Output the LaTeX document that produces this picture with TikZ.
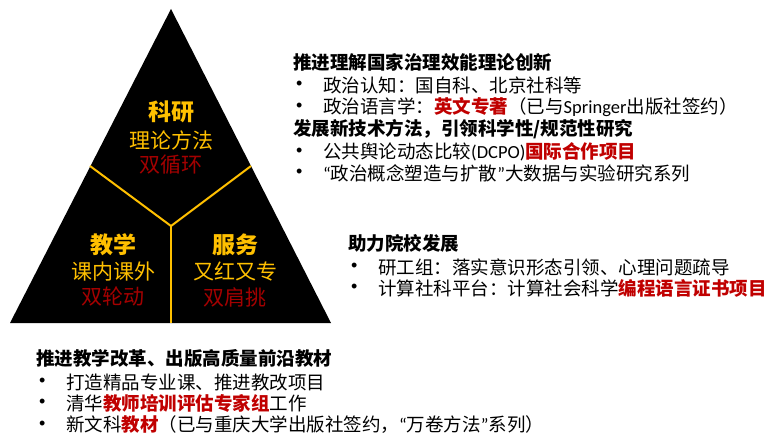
\documentclass[tikz,border=0pt]{standalone}
\usepackage{fontspec}
\setmainfont{Noto Sans CJK SC}
\newfontfamily\latin{Carlito}
\newfontfamily\bulletfont{Liberation Sans}
\definecolor{gold}{HTML}{FFC000}
\definecolor{hotred}{HTML}{C00000}
\newcommand{\hl}[1]{\textcolor{hotred}{\bfseries #1}}
\newcommand{\lt}[1]{{\latin #1}}
\begin{document}
\begin{tikzpicture}[x=1pt,y=-1pt,
  body/.style={anchor=west,inner sep=0pt,font=\fontsize{18.5}{22}\selectfont},
  head/.style={body,font=\fontsize{18.5}{22}\selectfont\bfseries},
  dot/.style={anchor=west,inner sep=0pt,font=\fontsize{18}{22}\selectfont\bulletfont},
  title/.style={inner sep=0pt,text=gold,font=\fontsize{23}{26}\selectfont\bfseries},
  sub/.style={inner sep=0pt,text=gold,font=\fontsize{21}{24}\selectfont},
  tag/.style={inner sep=0pt,text=hotred!85!black,font=\fontsize{21}{24}\selectfont},
  divider/.style={draw=gold,line width=2pt}]
\useasboundingbox (0,0) rectangle (773,443);

% pyramid
\coordinate (apex) at (171,9);
\coordinate (bl) at (10,323);
\coordinate (br) at (331,323);
\fill[black] (apex) -- (br) -- (bl) -- cycle;
\coordinate (hub) at (171,226);
\coordinate (le) at (90,166);
\coordinate (re) at (251,166);
\coordinate (bm) at (171,323);
\draw[divider] (le) -- (hub) -- (re);
\draw[divider] (hub) -- (bm);

% sector labels
\node[title] (ky) at (171,112) {科研};
\node[sub] (kya) at (171,140) {理论方法};
\node[tag] (kyb) at (171,165) {双循环};
\node[title] (jx) at (113,245) {教学};
\node[sub] (jxa) at (113,272) {课内课外};
\node[tag] (jxb) at (113,297) {双轮动};
\node[title] (fw) at (235,245) {服务};
\node[sub] (fwa) at (235,272) {又红又专};
\node[tag] (fwb) at (235,297) {双肩挑};

% research block
\node[head] (r1) at (293,62) {推进理解国家治理效能理论创新};
\node[dot] (r2d) at (296,85) {•};
\node[body] (r2) at (323,85) {政治认知：国自科、北京社科等};
\node[dot] (r3d) at (296,107) {•};
\node[body] (r3) at (323,107) {政治语言学：\hl{英文专著}（已与\lt{Springer}出版社签约）};
\node[head] (r4) at (293,129) {发展新技术方法，引领科学性/规范性研究};
\node[dot] (r5d) at (296,152) {•};
\node[body] (r5) at (323,152) {公共舆论动态比较\lt{(DCPO)}\hl{国际合作项目}};
\node[dot] (r6d) at (296,173) {•};
\node[body] (r6) at (323,173) {\lt{“}政治概念塑造与扩散\lt{”}大数据与实验研究系列};

% service block
\node[head] (s1) at (348,243) {助力院校发展};
\node[dot] (s2d) at (351,267) {•};
\node[body] (s2) at (378,267) {研工组：落实意识形态引领、心理问题疏导};
\node[dot] (s3d) at (351,288) {•};
\node[body] (s3) at (378,288) {计算社科平台：计算社会科学\hl{编程语言证书项目}};

% teaching block
\node[head] (t1) at (36,358) {推进教学改革、出版高质量前沿教材};
\node[dot] (t2d) at (39,382) {•};
\node[body] (t2) at (66,382) {打造精品专业课、推进教改项目};
\node[dot] (t3d) at (39,403) {•};
\node[body] (t3) at (66,403) {清华\hl{教师培训评估专家组}工作};
\node[dot] (t4d) at (39,425) {•};
\node[body] (t4) at (66,425) {新文科\hl{教材}（已与重庆大学出版社签约，\lt{“}万卷方法\lt{”}系列）};
\end{tikzpicture}
\end{document}
